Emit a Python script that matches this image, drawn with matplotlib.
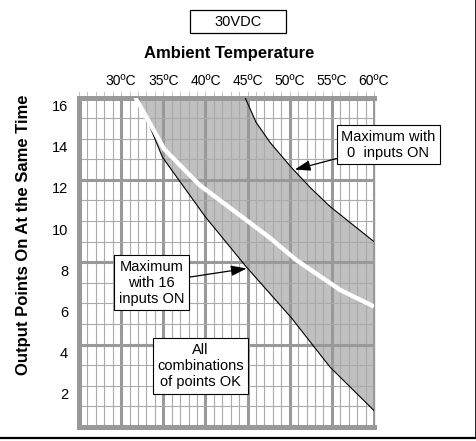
import numpy as np
import matplotlib
matplotlib.use("Agg")
import matplotlib.pyplot as plt
from matplotlib.lines import Line2D
from matplotlib.patches import Rectangle
from matplotlib.transforms import ScaledTranslation

plt.rcParams["font.family"] = ["Liberation Sans", "DejaVu Sans"]

# temperature axis (degC) and output points axis
temp_ticks = [25, 30, 35, 40, 45, 50, 55, 60]
temp_labels = ["", "30ºC", "35ºC", "40ºC", "45ºC", "50ºC", "55ºC", "60ºC"]
point_ticks = [2, 4, 6, 8, 10, 12, 14, 16]

# maximum with 16 inputs ON (lower edge of the band)
lower_t = [32.0, 34.9, 40.0, 44.8, 50.2, 54.8, 60.0]
lower_n = [16.0, 13.1, 10.2, 7.8, 5.3, 2.9, 0.8]

# maximum with 0 inputs ON (upper edge of the band)
upper_t = [44.7, 46.0, 47.7, 50.2, 52.5, 54.8, 60.0]
upper_n = [16.0, 14.8, 13.8, 12.6, 11.6, 10.7, 9.0]

# white middle line
white_t = [31.7, 35.1, 39.3, 47.6, 50.8, 56.0, 60.0]
white_n = [16.0, 13.5, 11.75, 9.2, 8.1, 6.65, 5.85]

W, H = 477, 441
fig = plt.figure(figsize=(W / 100, H / 100), dpi=100)
ax = fig.add_axes([79 / W, 1 - 427 / H, (374 - 79) / W, (427 - 97.5) / H])

ax.set_xlim(25, 60)
ax.set_ylim(0, 16)

# shaded band
xg = np.linspace(lower_t[0], 60, 400)
lo = np.interp(xg, lower_t, lower_n)
hi = np.interp(xg, upper_t, upper_n, left=16)
ax.fill_between(xg, lo, hi, color="#c0c0c0", lw=0, zorder=1)

# grid
for t in range(25, 61):
    if t % 5 == 0:
        ax.axvline(t, color="#999999", lw=2.2, zorder=2)
    else:
        ax.axvline(t, color="#aaaaaa", lw=0.8, zorder=2)
for n in range(0, 17):
    if n % 4 == 0:
        ax.axhline(n, color="#999999", lw=2.2, zorder=2)
    else:
        ax.axhline(n, color="#aaaaaa", lw=0.8, zorder=2)

# curves
ax.plot(lower_t, lower_n, color="black", lw=0.8, zorder=4)
ax.plot(upper_t, upper_n, color="black", lw=0.8, zorder=4)
ax.plot(white_t, white_n, color="white", lw=3.2, zorder=5, solid_capstyle="butt")

# spines
for side in ["left", "top", "bottom"]:
    ax.spines[side].set_color("#999999")
    ax.spines[side].set_linewidth(3.6)
    ax.spines[side].set_zorder(3)
ax.spines["right"].set_color("#999999")
ax.spines["right"].set_linewidth(1)

# ticks
ax.xaxis.set_ticks_position("top")
ax.set_xticks(temp_ticks)
ax.set_xticks(range(25, 61), minor=True)
ax.set_xticklabels(temp_labels, fontsize=10)
ax.tick_params(axis="x", which="both", direction="out", length=4.7, width=0.7,
               color="#c4c4c4", pad=2.0)

ax.set_yticks(point_ticks)
ax.set_yticklabels([str(v) for v in point_ticks], fontsize=10.5)
ax.tick_params(axis="y", length=0, pad=7.9)
for lab in ax.get_yticklabels():
    lab.set_transform(lab.get_transform() + ScaledTranslation(0, -8 / 100, fig.dpi_scale_trans))

# annotations
box = dict(boxstyle="square,pad=0.3", fc="white", ec="black", lw=0.8)
arrow = dict(arrowstyle="-|>,head_length=0.9,head_width=0.3", color="black",
             lw=0.9, shrinkA=0, shrinkB=0)

ax.annotate("Maximum with\n0  inputs ON", xy=(50.6, 12.5), xytext=(61.7, 13.7),
            ha="center", va="center", fontsize=10.5, bbox=box, arrowprops=arrow,
            annotation_clip=False, zorder=6)
ax.annotate("Maximum\nwith 16\ninputs ON", xy=(44.9, 7.7), xytext=(33.6, 7.0),
            ha="center", va="center", fontsize=10.5, bbox=box, arrowprops=arrow,
            zorder=6)
ax.text(39.4, 2.96, "All\ncombinations\nof points OK", ha="center", va="center",
        fontsize=10.5, bbox=box, zorder=6)

# header
fig.add_artist(Rectangle((190 / W, 1 - 33.3 / H), 96 / W, 23.3 / H,
                         transform=fig.transFigure, fc="white", ec="black", lw=0.9))
fig.text(238 / W, 1 - 21.7 / H, "30VDC", ha="center", va="center", fontsize=10.5)
fig.text(229.5 / W, 1 - 53.3 / H, "Ambient Temperature", ha="center", va="center",
         fontsize=12, fontweight="bold")
fig.text(24 / W, 1 - 235 / H, "Output Points On At the Same Time", ha="center",
         va="center", rotation=90, fontsize=12, fontweight="bold")

# frame lines
fig.add_artist(Line2D([0, 1], [1 - 437.8 / H, 1 - 437.8 / H], transform=fig.transFigure,
                      color="black", lw=1.6))
fig.add_artist(Line2D([476.2 / W, 476.2 / W], [1 - 437.8 / H, 1], transform=fig.transFigure,
                      color="black", lw=1.2))

fig.savefig("out.png", dpi=100)
